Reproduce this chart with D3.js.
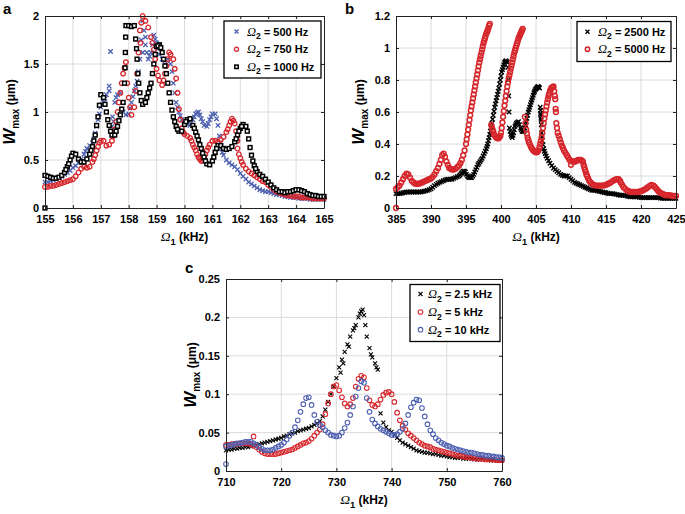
<!DOCTYPE html>
<html><head><meta charset="utf-8">
<script src="https://cdn.jsdelivr.net/npm/d3@7"></script>
<style>
body{margin:0;background:#fff}
svg{display:block}
text{font-family:"Liberation Sans",Arial,Helvetica,sans-serif;font-weight:bold;fill:#000}
</style>
</head><body>
<svg id="fig" width="685" height="514"></svg>
<script>
// ---------------- DATA ----------------
// Panel a: sweep of Omega_1 (kHz), sampled every 0.1 kHz from 155 to 165
const freqA = d3.range(0, 101).map(i => 155 + i * 0.1);
const wA500 = [0.27,0.27,0.28,0.29,0.30,0.32,0.33,0.35,0.37,0.39,
  0.42,0.44,0.47,0.51,0.56,0.62,0.65,0.68,0.78,0.92,
  1.05,1.10,1.18,1.27,0.85,1.10,1.18,1.20,1.00,0.97,
  0.98,1.10,1.22,1.32,1.55,1.95,1.70,1.55,1.62,1.80,
  1.72,1.60,1.55,1.50,1.55,1.50,1.30,1.10,1.00,0.92,
  0.89,0.87,0.86,0.92,0.98,1.00,0.93,0.86,0.85,0.92,
  0.98,0.98,0.86,0.62,0.55,0.50,0.47,0.45,0.43,0.40,
  0.36,0.33,0.30,0.27,0.25,0.23,0.21,0.19,0.18,0.17,
  0.17,0.16,0.15,0.14,0.14,0.13,0.12,0.12,0.11,0.11,
  0.11,0.10,0.10,0.10,0.10,0.09,0.09,0.09,0.09,0.09,
  0.09];
const wA750 = [0.22,0.22,0.23,0.23,0.24,0.25,0.26,0.27,0.28,0.29,
  0.30,0.33,0.37,0.41,0.43,0.42,0.43,0.48,0.55,0.64,
  0.70,0.70,0.65,0.66,0.70,0.82,1.00,1.20,1.40,1.52,
  1.15,0.97,1.05,1.40,1.85,2.00,1.95,1.88,1.78,1.65,
  1.45,1.33,1.28,1.40,1.55,1.60,1.55,1.35,1.03,0.83,
  0.77,0.75,0.73,0.66,0.60,0.53,0.49,0.52,0.60,0.66,
  0.70,0.70,0.69,0.71,0.74,0.79,0.86,0.93,0.88,0.62,
  0.52,0.45,0.41,0.38,0.36,0.34,0.32,0.30,0.28,0.27,
  0.24,0.22,0.19,0.17,0.16,0.15,0.14,0.13,0.13,0.12,
  0.12,0.12,0.11,0.11,0.11,0.11,0.10,0.10,0.10,0.10,
  0.10];
const wA1000 = [0.34,0.33,0.32,0.31,0.31,0.32,0.34,0.37,0.43,0.50,
  0.57,0.56,0.51,0.48,0.48,0.51,0.56,0.64,0.76,0.95,
  1.18,1.15,1.00,0.86,0.76,0.76,0.85,0.97,1.10,1.90,
  1.90,1.89,1.90,1.55,1.20,1.08,1.10,1.20,1.30,1.50,
  1.68,1.70,1.62,1.48,1.30,1.10,0.95,0.85,0.80,0.80,
  0.87,0.92,0.93,0.86,0.79,0.71,0.62,0.53,0.46,0.45,
  0.49,0.58,0.65,0.65,0.62,0.61,0.62,0.64,0.69,0.76,
  0.83,0.87,0.85,0.72,0.55,0.44,0.38,0.35,0.33,0.30,
  0.27,0.24,0.21,0.19,0.17,0.17,0.16,0.17,0.17,0.18,
  0.19,0.19,0.18,0.17,0.15,0.14,0.13,0.13,0.12,0.12,
  0.12];
// additional samples read between sweep steps on the steep parts (frequency, value)
const extraA500 = [[156.45,0.59],[156.75,0.72],[156.85,0.85],[156.95,0.98],[157.05,1.08],[157.15,1.14],[157.35,1.63],[157.3,1.22],
  [157.42,0.95],[157.46,0.9],[157.55,1.15],[158.05,1.04],[158.15,1.16],[158.25,1.27],[158.35,1.42],[158.45,1.75],[158.5,1.62],
  [158.55,1.85],[158.6,1.78],[158.65,1.62],[158.75,1.58],[158.85,1.70],[158.95,1.76],[159.05,1.66],[159.55,1.42],[159.65,1.2],
  [159.75,1.05],[159.85,0.96],[160.25,0.89],[160.35,0.95],[160.45,0.99],[160.55,0.97],[160.65,0.90],[160.85,0.88],[160.95,0.95],
  [161.15,0.93],[161.25,0.75],[161.28,0.68],[161.35,0.58]];
const extraA750 = [[156.75,0.51],[156.85,0.60],[156.95,0.68],[157.45,0.75],[157.55,0.9],[157.65,1.1],[157.75,1.3],[157.85,1.46],
  [157.95,1.30],[158.05,1.05],[158.25,1.22],[158.35,1.62],[158.42,1.72],[158.45,1.93],[158.85,1.72],[158.95,1.55],[159.05,1.38],
  [159.25,1.33],[159.35,1.48],[159.45,1.62],[159.65,1.45],[159.75,1.2],[159.85,0.92],[159.95,0.79],[160.25,0.70],[160.35,0.63],
  [160.45,0.56],[160.55,0.51],[160.65,0.50],[160.75,0.56],[160.85,0.63],[161.55,0.82],[161.65,0.90],[161.75,0.91],[161.85,0.80],
  [161.9,0.70],[161.95,0.56],[162.05,0.48]];
const extraA1000 = [[155,0],[155.75,0.40],[155.85,0.46],[155.95,0.54],[156.65,0.60],[156.75,0.70],[156.85,0.86],[156.95,1.07],
  [157.15,1.08],[157.25,0.92],[157.35,0.80],[157.55,0.80],[157.65,0.91],[157.75,1.03],[157.85,1.30],[157.87,1.46],[157.88,1.62],
  [157.89,1.78],[158.25,1.76],[158.28,1.66],[158.33,1.40],[158.36,1.30],[158.45,1.12],[158.65,1.15],[158.75,1.25],[158.85,1.40],
  [158.95,1.60],[159.05,1.69],[159.15,1.67],[159.25,1.55],[159.35,1.40],[159.45,1.20],[159.55,1.02],[159.65,0.90],[159.75,0.82],
  [160.05,0.90],[160.35,0.83],[160.45,0.75],[160.55,0.66],[160.65,0.57],[160.75,0.49],[161.05,0.53],[161.15,0.62],[161.85,0.72],
  [161.95,0.80],[162.05,0.85],[162.25,0.80],[162.35,0.63],[162.45,0.49],[162.55,0.41]];

// Panel b: (Omega_1 kHz, W_max um)
const wB2500 = [[385,0.09],[385.25,0.09],[385.5,0.09],[385.75,0.092],[386,0.095],[386.25,0.097],[386.5,0.10],[386.75,0.10],[387,0.10],[387.25,0.10],
  [387.5,0.10],[387.75,0.10],[388,0.10],[388.25,0.10],[388.5,0.10],[388.75,0.102],[389,0.105],[389.25,0.107],[389.5,0.11],[389.75,0.115],
  [390,0.12],[390.25,0.13],[390.5,0.14],[390.75,0.148],[391,0.155],[391.25,0.16],[391.5,0.165],[391.75,0.17],[392,0.175],[392.25,0.178],
  [392.5,0.18],[392.75,0.18],[393,0.18],[393.25,0.185],[393.5,0.19],[393.75,0.195],[394,0.20],[394.15,0.207],[394.3,0.215],[394.45,0.222],
  [394.6,0.23],[394.75,0.23],[394.9,0.225],[395.05,0.21],[395.2,0.20],[395.35,0.193],[395.5,0.19],[395.65,0.19],[395.8,0.19],[395.95,0.20],
  [396.1,0.21],[396.25,0.225],[396.4,0.24],[396.55,0.255],[396.7,0.27],[396.85,0.28],[397,0.29],[397.15,0.30],[397.3,0.31],[397.45,0.325],
  [397.6,0.34],[397.75,0.355],[397.9,0.37],[398,0.385],[398.1,0.40],[398.2,0.42],[398.3,0.44],[398.4,0.46],[398.5,0.48],[398.6,0.505],
  [398.7,0.53],[398.8,0.555],[398.9,0.58],[399,0.605],[399.1,0.63],[399.2,0.65],[399.3,0.67],[399.4,0.69],[399.5,0.71],[399.6,0.73],
  [399.7,0.75],[399.8,0.775],[399.9,0.80],[400,0.825],[400.1,0.85],[400.2,0.865],[400.3,0.88],[400.4,0.895],[400.5,0.91],[400.6,0.915],
  [400.7,0.92],[400.8,0.915],[400.9,0.91],[401,0.88],[401.05,0.80],[401.1,0.70],[401.15,0.60],[401.2,0.50],[401.3,0.48],[401.4,0.46],
  [401.5,0.45],[401.6,0.44],[401.7,0.455],[401.8,0.47],[401.9,0.49],[402,0.51],[402.1,0.52],[402.2,0.53],[402.35,0.535],[402.5,0.54],
  [402.65,0.52],[402.8,0.50],[402.9,0.49],[403,0.48],[403.15,0.478],[403.3,0.48],[403.4,0.50],[403.5,0.52],[403.6,0.54],[403.7,0.56],
  [403.8,0.58],[403.9,0.60],[404,0.615],[404.1,0.63],[404.2,0.645],[404.3,0.66],[404.4,0.675],[404.5,0.69],[404.6,0.705],[404.7,0.72],
  [404.8,0.73],[404.9,0.74],[405,0.745],[405.1,0.75],[405.2,0.755],[405.3,0.76],[405.4,0.755],[405.5,0.75],[405.6,0.63],[405.65,0.59],
  [405.7,0.56],[405.75,0.52],[405.8,0.47],[405.85,0.445],[405.9,0.42],[406,0.395],[406.1,0.37],[406.2,0.355],[406.3,0.34],[406.45,0.325],
  [406.6,0.31],[406.8,0.295],[407,0.28],[407.25,0.265],[407.5,0.25],[407.75,0.24],[408,0.23],[408.25,0.22],[408.5,0.21],[408.75,0.205],
  [409,0.20],[409.25,0.20],[409.5,0.20],[409.75,0.19],[410,0.18],[410.25,0.17],[410.5,0.16],[410.75,0.155],[411,0.15],[411.25,0.145],
  [411.5,0.14],[411.75,0.135],[412,0.13],[412.25,0.125],[412.5,0.12],[412.75,0.115],[413,0.11],[413.25,0.11],[413.5,0.11],[413.75,0.107],
  [414,0.105],[414.25,0.102],[414.5,0.10],[414.75,0.097],[415,0.095],[415.25,0.092],[415.5,0.09],[415.75,0.09],[416,0.09],[416.25,0.087],
  [416.5,0.085],[416.75,0.082],[417,0.08],[417.25,0.08],[417.5,0.08],[417.75,0.077],[418,0.075],[418.25,0.072],[418.5,0.07],[418.75,0.07],
  [419,0.07],[419.25,0.07],[419.5,0.07],[419.75,0.067],[420,0.065],[420.25,0.065],[420.5,0.065],[420.75,0.065],[421,0.065],[421.25,0.065],
  [421.5,0.065],[421.75,0.065],[422,0.065],[422.25,0.065],[422.5,0.065],[422.75,0.062],[423,0.06],[423.25,0.06],[423.5,0.06],[423.75,0.06],
  [424,0.06],[424.25,0.06],[424.5,0.06],[424.75,0.06],[425,0.06]];
const wB5000 = [[385,0],[385,0.12],[385.25,0.13],[385.5,0.14],[385.75,0.16],[386,0.18],[386.25,0.20],[386.5,0.215],[386.75,0.21],[387,0.19],
  [387.25,0.17],[387.5,0.16],[387.75,0.152],[388,0.15],[388.25,0.152],[388.5,0.155],[388.75,0.16],[389,0.165],[389.25,0.17],[389.5,0.175],
  [389.75,0.18],[390,0.185],[390.25,0.195],[390.5,0.21],[390.75,0.23],[391,0.25],[391.2,0.275],[391.4,0.30],[391.6,0.33],[391.8,0.34],
  [392,0.32],[392.2,0.29],[392.4,0.27],[392.6,0.25],[392.8,0.245],[393,0.24],[393.25,0.24],[393.5,0.245],[393.75,0.255],[394,0.265],
  [394.2,0.28],[394.4,0.30],[394.6,0.33],[394.8,0.36],[395,0.40],[395.1,0.43],[395.2,0.46],[395.3,0.49],[395.4,0.52],[395.5,0.55],
  [395.6,0.58],[395.7,0.61],[395.8,0.635],[395.9,0.66],[396,0.685],[396.1,0.71],[396.2,0.735],[396.3,0.76],[396.4,0.785],[396.5,0.81],
  [396.6,0.835],[396.7,0.86],[396.8,0.885],[396.9,0.91],[397,0.93],[397.1,0.95],[397.2,0.97],[397.3,0.99],[397.4,1.01],[397.5,1.03],
  [397.6,1.045],[397.7,1.06],[397.8,1.075],[397.9,1.09],[398,1.10],[398.1,1.11],[398.2,1.125],[398.3,1.14],[398.4,1.15],[398.6,0.52],
  [398.7,0.505],[398.8,0.49],[398.9,0.475],[399,0.46],[399.15,0.45],[399.3,0.44],[399.45,0.437],[399.6,0.435],[399.75,0.44],[399.9,0.45],
  [400,0.47],[400.1,0.50],[400.2,0.535],[400.3,0.57],[400.4,0.605],[400.5,0.64],[400.6,0.67],[400.7,0.70],[400.8,0.73],[400.9,0.76],
  [401,0.785],[401.1,0.81],[401.2,0.83],[401.3,0.85],[401.4,0.87],[401.5,0.89],[401.6,0.91],[401.7,0.93],[401.8,0.95],[401.9,0.97],
  [402,0.985],[402.1,1.00],[402.2,1.015],[402.3,1.03],[402.4,1.045],[402.5,1.06],[402.6,1.07],[402.7,1.08],[402.8,1.09],[402.9,1.10],
  [403,1.11],[403.1,1.12],[403.4,0.57],[403.5,0.53],[403.6,0.49],[403.7,0.465],[403.8,0.44],[403.9,0.425],[404,0.41],[404.15,0.395],
  [404.3,0.38],[404.45,0.37],[404.6,0.36],[404.75,0.355],[404.9,0.35],[405.05,0.348],[405.2,0.35],[405.35,0.36],[405.5,0.38],[405.6,0.40],
  [405.7,0.42],[405.8,0.44],[405.9,0.47],[406,0.50],[406.1,0.53],[406.2,0.56],[406.3,0.585],[406.4,0.61],[406.5,0.635],[406.6,0.66],
  [406.7,0.68],[406.8,0.70],[406.9,0.715],[407,0.73],[407.1,0.74],[407.2,0.75],[407.35,0.755],[407.5,0.76],[407.6,0.73],[407.7,0.70],
  [407.75,0.68],[407.8,0.62],[407.85,0.60],[407.9,0.53],[408,0.50],[408.1,0.47],[408.25,0.45],[408.4,0.43],[408.55,0.41],[408.7,0.39],
  [408.85,0.375],[409,0.36],[409.2,0.345],[409.4,0.33],[409.6,0.315],[409.8,0.30],[410,0.27],[410.05,0.295],[410.2,0.29],[410.4,0.29],
  [410.6,0.29],[410.8,0.295],[411,0.30],[411.2,0.30],[411.4,0.30],[411.6,0.295],[411.7,0.29],[411.8,0.27],[411.9,0.255],[412,0.24],
  [412.1,0.225],[412.2,0.21],[412.3,0.20],[412.45,0.185],[412.6,0.17],[412.8,0.16],[413,0.15],[413.25,0.145],[413.5,0.14],[413.75,0.14],
  [414,0.14],[414.25,0.14],[414.5,0.14],[414.75,0.142],[415,0.145],[415.25,0.15],[415.5,0.155],[415.75,0.162],[416,0.17],[416.25,0.175],
  [416.5,0.18],[416.8,0.18],[417,0.17],[417.1,0.16],[417.3,0.145],[417.5,0.13],[417.75,0.12],[418,0.11],[418.25,0.105],[418.5,0.10],
  [418.75,0.10],[419,0.10],[419.25,0.10],[419.5,0.10],[419.75,0.102],[420,0.105],[420.25,0.11],[420.5,0.115],[420.75,0.122],[421,0.13],
  [421.25,0.138],[421.5,0.145],[421.8,0.14],[422,0.13],[422.2,0.12],[422.4,0.11],[422.6,0.10],[422.8,0.095],[423,0.09],[423.25,0.085],
  [423.5,0.08],[423.75,0.08],[424,0.08],[424.25,0.078],[424.5,0.075],[424.75,0.075],[425,0.075]];

// Panel c: sweep of Omega_1 (kHz), sampled every 0.5 kHz from 710 to 760
const freqC = d3.range(0, 101).map(i => 710 + i * 0.5);
const wC2p5 = [0.027,0.028,0.028,0.029,0.029,0.030,0.030,0.031,0.031,0.032,
  0.033,0.034,0.035,0.036,0.037,0.038,0.039,0.040,0.041,0.042,
  0.043,0.045,0.046,0.048,0.049,0.050,0.052,0.053,0.054,0.055,
  0.056,0.058,0.060,0.062,0.065,0.071,0.080,0.090,0.100,0.110,
  0.121,0.135,0.145,0.155,0.165,0.175,0.183,0.190,0.200,0.208,
  0.203,0.175,0.160,0.148,0.140,0.132,0.075,0.063,0.057,0.053,
  0.051,0.047,0.043,0.040,0.037,0.035,0.033,0.031,0.029,0.027,
  0.026,0.025,0.024,0.024,0.023,0.022,0.022,0.021,0.020,0.020,
  0.019,0.018,0.018,0.017,0.017,0.017,0.016,0.016,0.016,0.016,
  0.015,0.015,0.015,0.015,0.015,0.015,0.014,0.014,0.014,0.014,
  0.014];
const wC5 = [0.034,0.034,0.035,0.035,0.035,0.036,0.036,0.036,0.036,0.035,
  0.033,0.031,0.028,0.025,0.023,0.022,0.022,0.022,0.022,0.023,
  0.024,0.025,0.026,0.027,0.028,0.030,0.032,0.034,0.036,0.037,
  0.039,0.042,0.046,0.050,0.054,0.061,0.074,0.088,0.100,0.110,
  0.112,0.105,0.096,0.088,0.084,0.087,0.095,0.110,0.120,0.124,
  0.122,0.108,0.092,0.086,0.084,0.087,0.093,0.099,0.102,0.103,
  0.100,0.090,0.076,0.066,0.059,0.054,0.049,0.046,0.043,0.040,
  0.037,0.035,0.033,0.032,0.031,0.029,0.028,0.027,0.026,0.025,
  0.024,0.023,0.022,0.021,0.020,0.020,0.019,0.018,0.018,0.017,
  0.017,0.016,0.016,0.016,0.015,0.015,0.015,0.015,0.014,0.014,
  0.014];
const wC10 = [0.032,0.033,0.034,0.035,0.036,0.036,0.037,0.038,0.038,0.038,
  0.036,0.034,0.031,0.029,0.027,0.027,0.027,0.028,0.030,0.032,
  0.034,0.037,0.041,0.046,0.050,0.057,0.066,0.077,0.087,0.095,
  0.096,0.086,0.073,0.064,0.060,0.057,0.053,0.050,0.047,0.046,
  0.045,0.046,0.050,0.056,0.063,0.073,0.084,0.097,0.108,0.117,
  0.115,0.095,0.077,0.067,0.062,0.058,0.055,0.053,0.051,0.049,
  0.047,0.047,0.048,0.051,0.055,0.062,0.073,0.083,0.089,0.093,
  0.092,0.082,0.071,0.061,0.053,0.048,0.043,0.040,0.037,0.035,
  0.033,0.032,0.030,0.029,0.028,0.027,0.026,0.025,0.024,0.024,
  0.023,0.022,0.021,0.021,0.020,0.020,0.019,0.019,0.018,0.018,
  0.017];
const extraB2500 = [[405.65,0.61],[405.7,0.58],[405.75,0.55]];
const extraC2p5 = [[730.75,0.128],[731.25,0.140],[732.25,0.162],[733.25,0.186],[734.25,0.205],[734.75,0.210],[735.25,0.190],[736.25,0.152],[737.25,0.135]];
const extraC5 = [[715,0.045]];
const extraC10 = [[710,0.009]];

// tick values
const aXTicks = [155,156,157,158,159,160,161,162,163,164,165];
const aYTicks = [0,0.5,1,1.5,2];
const bXTicks = [385,390,395,400,405,410,415,420,425];
const bYTicks = [0,0.2,0.4,0.6,0.8,1,1.2];
const cXTicks = [710,720,730,740,750,760];
const cYTicks = [0,0.05,0.1,0.15,0.2,0.25];

// legend labels
const legendA = ["500 Hz","750 Hz","1000 Hz"];
const legendB = ["2500 Hz","5000 Hz"];
const legendC = ["2.5 kHz","5 kHz","10 kHz"];

// ---------------- DRAWING ----------------
const BLUE = "#4d5fb0", RED = "#d6262b", BLACK = "#000";
const svg = d3.select("#fig");

function zipGrid(freqs, vals) { return vals.map((v, i) => [freqs[i], v]); }

function drawMarker(sel, type, color, size, sw) {
  const h = size / 2;
  if (type === "x") {
    sel.append("path").attr("d", `M${-h},${-h}L${h},${h}M${-h},${h}L${h},${-h}`)
      .attr("stroke", color).attr("stroke-width", sw).attr("fill", "none");
  } else if (type === "o") {
    sel.append("circle").attr("r", h).attr("stroke", color).attr("stroke-width", sw).attr("fill", "none");
  } else if (type === "s") {
    sel.append("rect").attr("x", -h).attr("y", -h).attr("width", size).attr("height", size)
      .attr("stroke", color).attr("stroke-width", sw).attr("fill", "#fff");
  }
}

function omegaText(sel, sub, rest, fs) {
  sel.append("tspan").text("Ω").attr("font-style", "italic").attr("font-weight", "normal")
    .attr("font-family", "'Liberation Serif','Times New Roman',serif").attr("font-size", fs + 1.5);
  sel.append("tspan").text(sub).attr("font-size", fs * 0.78).attr("dy", 3.5);
  sel.append("tspan").text(rest).attr("font-size", fs).attr("dy", -3.5);
}

function panel(cfg) {
  const x = d3.scaleLinear().domain(cfg.xd).range([cfg.l, cfg.r]);
  const y = d3.scaleLinear().domain(cfg.yd).range([cfg.b, cfg.t]);
  const g = svg.append("g");
  // grid
  g.append("g").selectAll("line").data(cfg.xt.slice(1, -1)).join("line")
    .attr("x1", d => x(d)).attr("x2", d => x(d)).attr("y1", cfg.t).attr("y2", cfg.b)
    .attr("stroke", "#dcdcdc").attr("stroke-width", 1);
  g.append("g").selectAll("line").data(cfg.yt.slice(1, -1)).join("line")
    .attr("y1", d => y(d)).attr("y2", d => y(d)).attr("x1", cfg.l).attr("x2", cfg.r)
    .attr("stroke", "#dcdcdc").attr("stroke-width", 1);
  // series
  cfg.series.forEach(s => {
    const pts = s.data.concat(s.extra || []);
    g.append("g").selectAll("g").data(pts).join("g")
      .attr("transform", d => `translate(${x(d[0])},${y(d[1])})`)
      .each(function () { drawMarker(d3.select(this), s.type, s.color, s.size, s.sw); });
  });
  // axes
  const fmt = d3.format("~g");
  const styleAxis = a => { a.select(".domain").attr("stroke", "#222").attr("stroke-width", 1);
    a.selectAll(".tick line").attr("stroke", "#222");
    a.selectAll("text").attr("font-size", 11).attr("font-weight", "bold").attr("fill", "#000")
      .attr("font-family", "'Liberation Sans',Arial,sans-serif"); };
  g.append("g").attr("transform", `translate(0,${cfg.b})`)
    .call(d3.axisBottom(x).tickValues(cfg.xt).tickFormat(fmt).tickSizeInner(-3).tickSizeOuter(0).tickPadding(7.5)).call(styleAxis);
  g.append("g").attr("transform", `translate(0,${cfg.t})`)
    .call(d3.axisTop(x).tickValues(cfg.xt).tickFormat("").tickSizeInner(-3).tickSizeOuter(0)).call(styleAxis);
  g.append("g").attr("transform", `translate(${cfg.l},0)`)
    .call(d3.axisLeft(y).tickValues(cfg.yt).tickFormat(fmt).tickSizeInner(-3).tickSizeOuter(0).tickPadding(6)).call(styleAxis);
  g.append("g").attr("transform", `translate(${cfg.r},0)`)
    .call(d3.axisRight(y).tickValues(cfg.yt).tickFormat("").tickSizeInner(-3).tickSizeOuter(0)).call(styleAxis);
  // x label
  const xl = g.append("text").attr("x", (cfg.l + cfg.r) / 2).attr("y", cfg.b + 33).attr("text-anchor", "middle");
  omegaText(xl, "1", " (kHz)", 12);
  // y label
  const yl = g.append("text").attr("transform", `translate(${cfg.l - cfg.ylOff},${(cfg.t + cfg.b) / 2}) rotate(-90)`)
    .attr("text-anchor", "middle");
  yl.append("tspan").text("W").attr("font-style", "italic").attr("font-size", 17);
  yl.append("tspan").text("max").attr("font-size", 10).attr("dy", 3.5);
  yl.append("tspan").text(" (μm)").attr("font-size", 12).attr("dy", -3.5);
  // panel letter
  g.append("text").attr("x", cfg.letter[0]).attr("y", cfg.letter[1]).attr("font-size", 15).text(cfg.name);
  // legend
  const L = cfg.legend;
  g.append("rect").attr("x", L.x0).attr("y", L.y0).attr("width", L.x1 - L.x0).attr("height", L.y1 - L.y0)
    .attr("fill", "#fff").attr("stroke", "#000").attr("stroke-width", 1.3);
  cfg.series.forEach((s, i) => {
    const cy = L.rows[i];
    const m = g.append("g").attr("transform", `translate(${L.mx},${cy})`);
    drawMarker(m, s.type, s.color, s.lsize || s.size, s.sw);
    const t = g.append("text").attr("x", L.tx).attr("y", cy + 4).attr("font-size", 11);
    omegaText(t, "2", " = " + s.label, 11);
  });
}

panel({ name: "a", letter: [3, 14], l: 45, r: 324, t: 16, b: 208, ylOff: 30,
  xd: [155, 165], yd: [0, 2], xt: aXTicks, yt: aYTicks,
  legend: { x0: 224, x1: 321, y0: 21, y1: 78, rows: [31.5, 49.3, 66.8], mx: 236.5, tx: 247 },
  series: [
    { label: legendA[0], type: "x", color: BLUE, size: 4.4, sw: 1.3, lsize: 4, data: zipGrid(freqA, wA500), extra: extraA500 },
    { label: legendA[1], type: "o", color: RED, size: 4.6, sw: 1.3, lsize: 4.2, data: zipGrid(freqA, wA750), extra: extraA750 },
    { label: legendA[2], type: "s", color: BLACK, size: 3.8, sw: 1.5, lsize: 3.4, data: zipGrid(freqA, wA1000), extra: extraA1000 }
  ] });

panel({ name: "b", letter: [345, 14], l: 396, r: 676, t: 16, b: 208, ylOff: 32,
  xd: [385, 425], yd: [0, 1.2], xt: bXTicks, yt: bYTicks,
  legend: { x0: 577, x1: 671, y0: 21.5, y1: 61.5, rows: [31.7, 49.3], mx: 587.5, tx: 598 },
  series: [
    { label: legendB[0], type: "x", color: BLACK, size: 4.4, sw: 1.4, lsize: 4, data: wB2500, extra: extraB2500 },
    { label: legendB[1], type: "o", color: RED, size: 4.8, sw: 1.5, lsize: 4.4, data: wB5000 }
  ] });

panel({ name: "c", letter: [185, 273], l: 226, r: 502, t: 279, b: 471, ylOff: 30,
  xd: [710, 760], yd: [0, 0.25], xt: cXTicks, yt: cYTicks,
  legend: { x0: 410, x1: 500, y0: 284.5, y1: 341.5, rows: [294, 312, 329.7], mx: 420.5, tx: 428 },
  series: [
    { label: legendC[0], type: "x", color: BLACK, size: 4, sw: 1.1, data: zipGrid(freqC, wC2p5), extra: extraC2p5 },
    { label: legendC[1], type: "o", color: RED, size: 4.6, sw: 1.1, data: zipGrid(freqC, wC5), extra: extraC5 },
    { label: legendC[2], type: "o", color: BLUE, size: 4.6, sw: 1.1, data: zipGrid(freqC, wC10), extra: extraC10 }
  ] });
</script>
</body></html>
